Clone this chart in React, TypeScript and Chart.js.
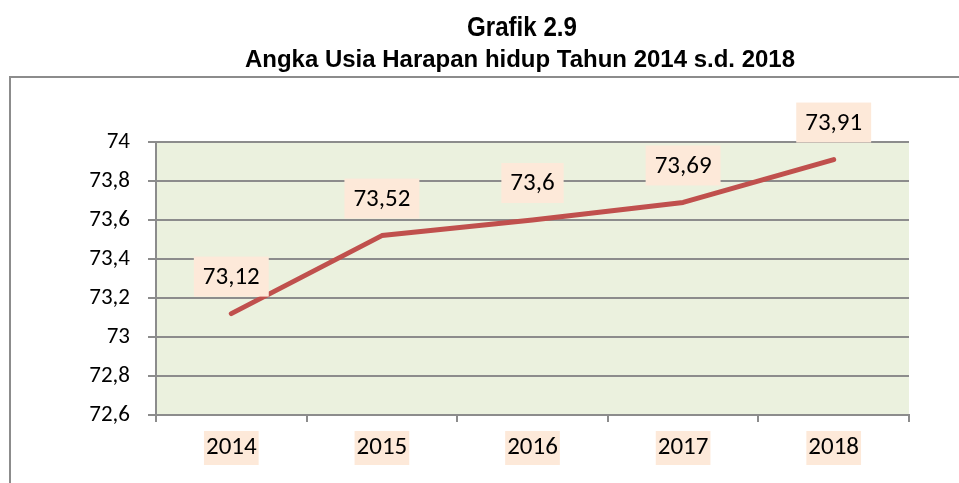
import React, { useEffect, useRef } from "react";
import { Chart, registerables } from "chart.js";

Chart.register(...registerables);

const titleLines = ["Grafik 2.9", "Angka Usia Harapan hidup Tahun 2014 s.d. 2018"];
const years = ["2014", "2015", "2016", "2017", "2018"];
const lifeExpectancy = [73.12, 73.52, 73.6, 73.69, 73.91];
const yMin = 72.6;
const yMax = 74;
const yStep = 0.2;

const LABEL_FONT = "Carlito, Calibri, Lato, sans-serif";
const TITLE_FONT = "'Liberation Sans', Arial, sans-serif";
const fmt = (v: number) => String(Number(v.toFixed(2))).replace(".", ",");

function drawFitted(ctx: any, text: string, size: number, cx: number, baseline: number, targetW: number) {
  ctx.font = `bold ${size}px ${TITLE_FONT}`;
  const sx = targetW / ctx.measureText(text).width;
  ctx.save();
  ctx.translate(cx, baseline);
  ctx.scale(sx, 1);
  ctx.fillText(text, 0, 0);
  ctx.restore();
}

const decorPlugin = {
  id: "decor",
  beforeDraw(chart: any) {
    const { ctx, chartArea } = chart;
    ctx.save();
    ctx.fillStyle = "#ffffff";
    ctx.fillRect(0, 0, chart.width, chart.height);
    // outer frame
    ctx.strokeStyle = "#8c8c8c";
    ctx.lineWidth = 2;
    ctx.beginPath();
    ctx.moveTo(10, chart.height);
    ctx.lineTo(10, 77);
    ctx.lineTo(chart.width, 77);
    ctx.stroke();
    // plot background
    ctx.fillStyle = "#ebf1de";
    ctx.fillRect(chartArea.left, chartArea.top, chartArea.right - chartArea.left, chartArea.bottom - chartArea.top);
    // title (condensed bold)
    ctx.fillStyle = "#000000";
    ctx.textAlign = "center";
    ctx.textBaseline = "alphabetic";
    drawFitted(ctx, titleLines[0], 28, 522, 36, 110);
    drawFitted(ctx, titleLines[1], 23, 520, 67, 550);
    ctx.restore();
  },
};

const valueLabelPlugin = {
  id: "valueLabels",
  afterDatasetsDraw(chart: any) {
    const { ctx } = chart;
    const meta = chart.getDatasetMeta(0);
    const data = chart.data.datasets[0].data as number[];
    ctx.save();
    ctx.font = `25px ${LABEL_FONT}`;
    ctx.textAlign = "center";
    ctx.textBaseline = "middle";
    meta.data.forEach((pt: any, i: number) => {
      const text = fmt(data[i]);
      const w = ctx.measureText(text).width + 18;
      const h = 40;
      const cx = pt.x;
      const cy = pt.y - 17 - h / 2;
      ctx.fillStyle = "#fde9d9";
      ctx.fillRect(cx - w / 2, cy - h / 2, w, h);
      ctx.fillStyle = "#000000";
      ctx.fillText(text, cx, cy + 1);
    });
    ctx.restore();
  },
};

export default function App() {
  const ref = useRef<HTMLCanvasElement | null>(null);
  useEffect(() => {
    if (!ref.current) return;
    const chart = new Chart(ref.current, {
      type: "line",
      data: {
        labels: years,
        datasets: [
          {
            data: lifeExpectancy,
            borderColor: "#c0504d",
            borderWidth: 5,
            pointRadius: 0,
            borderCapStyle: "round",
            borderJoinStyle: "round",
            tension: 0,
          },
        ],
      },
      options: {
        animation: false,
        responsive: false,
        layout: { padding: { left: 0, top: 142, right: 50, bottom: 0 } },
        plugins: { legend: { display: false }, tooltip: { enabled: false }, title: { display: false } },
        scales: {
          x: {
            offset: true,
            grid: { display: true, drawOnChartArea: false, drawTicks: true, tickLength: 7, color: "#8c8c8c", lineWidth: 2, offset: true },
            border: { display: true, color: "#8c8c8c", width: 2 },
            ticks: {
              color: "#000000",
              font: { family: LABEL_FONT, size: 25 },
              padding: 11,
              showLabelBackdrop: true,
              backdropColor: "#fde9d9",
              backdropPadding: { x: 2, y: 2 },
            } as any,
            afterFit(scale: any) {
              scale.height = 68;
            },
          },
          y: {
            min: yMin,
            max: yMax,
            grid: { color: "#8c8c8c", lineWidth: 2, tickLength: 8, drawTicks: true },
            border: { display: true, color: "#8c8c8c", width: 2 },
            ticks: {
              stepSize: yStep,
              color: "#000000",
              font: { family: LABEL_FONT, size: 23 },
              padding: 18,
              callback: (v: any) => fmt(Number(v)),
            },
            afterFit(scale: any) {
              scale.width = 156;
            },
          },
        },
      },
      plugins: [decorPlugin, valueLabelPlugin],
    });
    return () => chart.destroy();
  }, []);
  return (
    <div style={{ position: "absolute", left: 0, top: 0, width: 959, height: 483 }}>
      <canvas ref={ref} width={959} height={483} style={{ width: 959, height: 483, display: "block" }} />
    </div>
  );
}
